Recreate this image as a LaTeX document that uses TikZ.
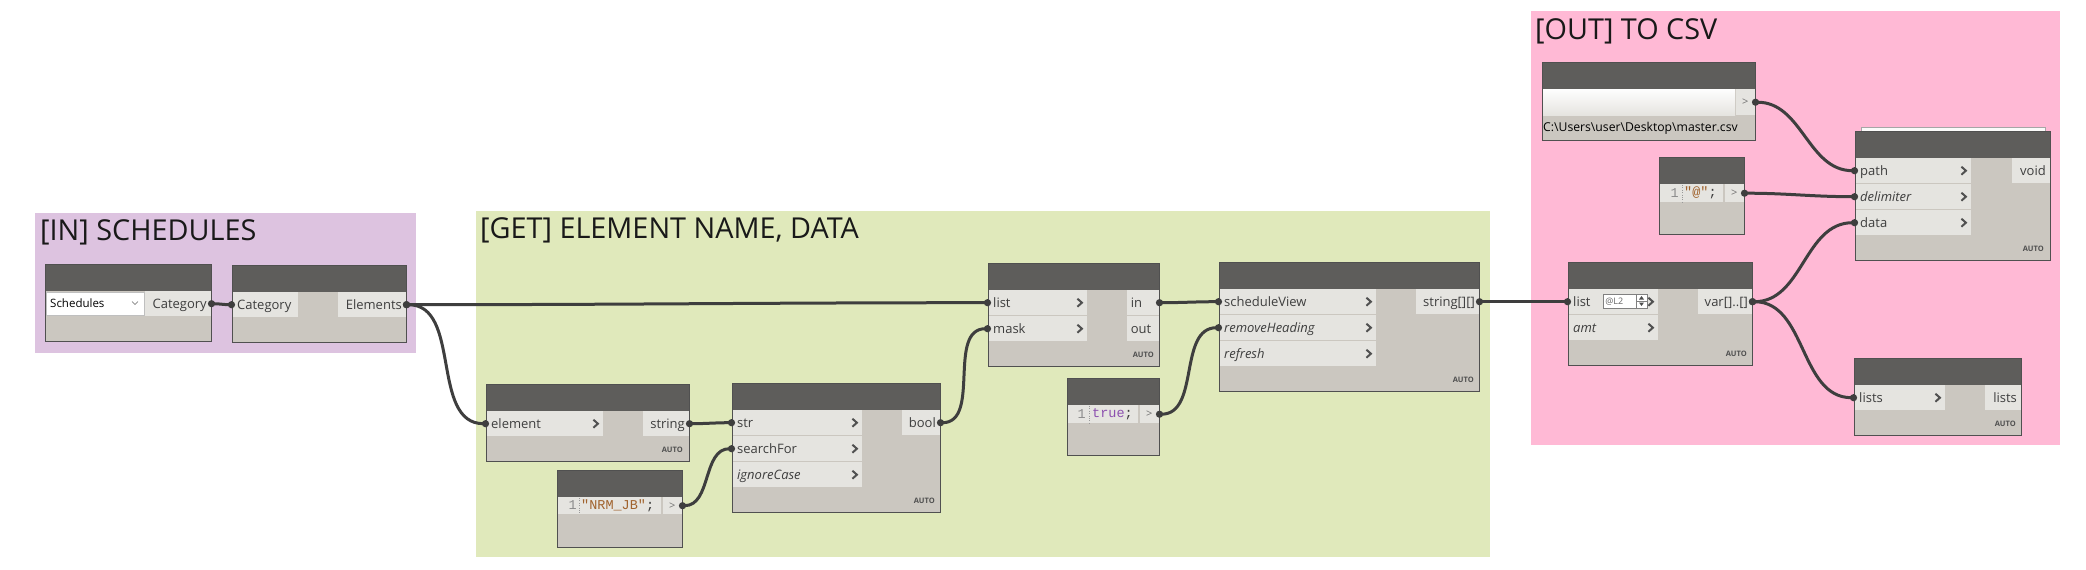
\documentclass[tikz,border=0pt]{standalone}
\usepackage{fontspec}
\setmainfont{Open Sans}
\setmonofont{Liberation Mono}
\usetikzlibrary{arrows.meta}

\definecolor{ingrp}{RGB}{221,195,224}
\definecolor{getgrp}{RGB}{224,233,187}
\definecolor{outgrp}{RGB}{255,185,213}
\definecolor{hdgray}{RGB}{94,93,91}
\definecolor{bdgray}{RGB}{203,199,192}
\definecolor{ptgray}{RGB}{229,228,224}
\definecolor{edgegray}{RGB}{80,80,80}
\definecolor{wiregray}{RGB}{62,62,62}
\definecolor{txtgray}{RGB}{62,62,62}
\definecolor{autogray}{RGB}{80,80,80}
\definecolor{strbrown}{RGB}{160,98,45}
\definecolor{kwpurple}{RGB}{140,80,175}

\tikzset{
  grptitle/.style={anchor=base west, inner sep=0pt, text=black!90, font=\fontsize{28.8}{32}\selectfont},
  head/.style={fill=hdgray},
  body/.style={fill=bdgray},
  outline/.style={draw=edgegray, line width=1pt},
  inport/.style={anchor=north west, fill=ptgray, inner xsep=5pt, inner ysep=0pt, minimum height=25pt, text height=11.5pt, text depth=1.5pt, align=left, text=txtgray, font=\fontsize{13}{15}\selectfont},
  outport/.style={anchor=north east, fill=ptgray, inner xsep=4pt, inner ysep=0pt, minimum height=25pt, text height=11.5pt, text depth=1.5pt, align=right, text=txtgray, font=\fontsize{13}{15}\selectfont},
  autotag/.style={anchor=east, inner sep=0pt, text=autogray, font=\fontsize{7.5}{9}\selectfont\bfseries},
  chev/.style={draw=txtgray!90, line width=2pt},
  codeln/.style={anchor=east, inner sep=0pt, text=black!45, font=\fontsize{13.5}{15}\ttfamily},
  codetx/.style={anchor=west, inner sep=0pt, text=txtgray, font=\fontsize{13.5}{15}\ttfamily},
  codeout/.style={anchor=north east, fill=ptgray, inner sep=0pt, minimum width=19pt, text=black!55, font=\fontsize{11}{12}\selectfont},
  wire/.style={draw=wiregray, line width=3pt, {Circle[length=7pt]}-{Circle[length=7pt]}, shorten <=-3pt, shorten >=-3pt},
}

\begin{document}
\begin{tikzpicture}[x=1pt,y=-1pt]

\useasboundingbox (0,0) rectangle (2086,570);
\fill[white] (0,0) rectangle (2086,570);

% Groups
\fill[ingrp] (35,213) rectangle (416,353);
\node[grptitle] (t-in) at (40,240) {[IN] SCHEDULES};
\fill[getgrp] (476,211) rectangle (1490,557);
\node[grptitle] (t-get) at (480,238) {[GET] ELEMENT NAME, DATA};
\fill[outgrp] (1531,11) rectangle (2060,445);
\node[grptitle] (t-out) at (1535,39) {[OUT] TO CSV};

% Categories
\fill[body] (45,264) rectangle (211,341);
\fill[head] (45,264) rectangle (211,291);
\node[anchor=north west, fill=white, draw=black!25, inner xsep=4pt, inner ysep=0pt, minimum height=23pt, text height=10pt, text depth=2pt, text width=90pt, align=left, font=\fontsize{11.5}{13}\selectfont] (cat-dd) at (46,292) {Schedules};
\draw[black!60, line width=0.6pt] (132,301.5) -- (135,304.5) -- (138,301.5);
\node[outport, text width=58pt] (cat-out) at (211,291) {Category};
\draw[outline] (45,264) rectangle (211,341);

% All Elements of Category
\fill[body] (232,265) rectangle (406,342);
\fill[head] (232,265) rectangle (406,292);
\node[inport, text width=56pt] (ae-in) at (232,292) {Category};
\node[outport, text width=60pt] (ae-out) at (406,292) {Elements};
\draw[outline] (232,265) rectangle (406,342);

% Element.Name
\fill[body] (486,384) rectangle (689,461);
\fill[head] (486,384) rectangle (689,411);
\node[inport, text width=107pt] (nm-in) at (486,411) {element};
\node[outport, text width=38pt] (nm-out) at (689,411) {string};
\node[autotag] (nm-auto) at (683,450) {AUTO};
\draw[outline] (486,384) rectangle (689,461);

% Code block NRM_JB
\fill[body] (557,470) rectangle (682,547);
\fill[head] (557,470) rectangle (682,497);
\fill[ptgray] (557,497) rectangle (661,514);
\node[codeln] (nrm-ln) at (577,505.5) {1};
\draw[black!40, dotted] (579.5,498) -- (579.5,514);
\node[codetx] (nrm-tx) at (581,505.5) {\textcolor{strbrown}{"NRM\_JB"};};
\node[codeout, minimum height=17pt] (nrm-out) at (682,497) {>};
\draw[outline] (557,470) rectangle (682,547);

% String.Contains
\fill[body] (732,383) rectangle (940,512);
\fill[head] (732,383) rectangle (940,410);
\node[inport, text width=120pt] (sc-str) at (732,410) {str};
\node[inport, text width=120pt] (sc-search) at (732,436) {searchFor};
\node[inport, text width=120pt] (sc-case) at (732,462) {\itshape ignoreCase};
\node[outport, text width=30pt] (sc-out) at (940,410) {bool};
\node[autotag] (sc-auto) at (935,501) {AUTO};
\draw[outline] (732,383) rectangle (940,512);

% List.FilterByBoolMask
\fill[body] (988,263) rectangle (1159,366);
\fill[head] (988,263) rectangle (1159,290);
\node[inport, text width=89pt] (fb-list) at (988,290) {list};
\node[inport, text width=89pt] (fb-mask) at (988,316) {mask};
\node[outport, text width=24pt, align=left] (fb-in) at (1159,290) {in};
\node[outport, text width=24pt, align=left] (fb-out) at (1159,316) {out};
\node[autotag] (fb-auto) at (1154,355) {AUTO};
\draw[outline] (988,263) rectangle (1159,366);

% Code block true
\fill[body] (1067,378) rectangle (1159,455);
\fill[head] (1067,378) rectangle (1159,405);
\fill[ptgray] (1067,405) rectangle (1138,423);
\node[codeln] (true-ln) at (1086,414) {1};
\draw[black!40, dotted] (1089.5,406) -- (1089.5,423);
\node[codetx] (true-tx) at (1092,414) {\textcolor{kwpurple}{true};};
\node[codeout, minimum height=18pt] (true-out) at (1159,405) {>};
\draw[outline] (1067,378) rectangle (1159,455);

% Schedule data
\fill[body] (1219,262) rectangle (1479,391);
\fill[head] (1219,262) rectangle (1479,289);
\node[inport, text width=147pt] (sd-view) at (1219,289) {scheduleView};
\node[inport, text width=147pt] (sd-head) at (1219,315) {\itshape removeHeading};
\node[inport, text width=147pt] (sd-ref) at (1219,341) {\itshape refresh};
\node[outport, text width=55pt] (sd-out) at (1479,289) {string[][]};
\node[autotag] (sd-auto) at (1474,380) {AUTO};
\draw[outline] (1219,262) rectangle (1479,391);

% List chop
\fill[body] (1568,262) rectangle (1752,365);
\fill[head] (1568,262) rectangle (1752,289);
\node[inport, text width=80pt] (lc-list) at (1568,289) {list};
\node[inport, text width=80pt] (lc-amt) at (1568,315) {\itshape amt};
\node[anchor=north west, fill=white, draw=black!50, line width=0.6pt, inner xsep=2pt, inner ysep=0pt, minimum width=44pt, minimum height=14pt, text width=40pt, align=left, text=black!60, font=\fontsize{9}{10}\selectfont] (lc-spin) at (1603,294) {@L2};
\draw[black!50, line width=0.6pt] (1636,294) -- (1636,308) (1636,301) -- (1647,301);
\fill[black!70] (1639,299.5) -- (1644,299.5) -- (1641.5,296) -- cycle;
\fill[black!70] (1639,302.5) -- (1644,302.5) -- (1641.5,306) -- cycle;
\node[outport, text width=46pt] (lc-out) at (1752,289) {var[]..[]};
\node[autotag] (lc-auto) at (1747,354) {AUTO};
\draw[outline] (1568,262) rectangle (1752,365);

% File path
\fill[body] (1542,62) rectangle (1755,140);
\fill[head] (1542,62) rectangle (1755,89);
\shade[top color=white!97!ptgray, bottom color=ptgray] (1542,89) rectangle (1735,115);
\node[codeout, minimum height=26pt] (fp-out) at (1755,89) {>};
\node[anchor=west, inner sep=0pt, text=black, font=\fontsize{12.2}{14}\selectfont] (fp-tx) at (1543,128) {C:\textbackslash Users\textbackslash user\textbackslash Desktop\textbackslash master.csv};
\draw[outline] (1542,62) rectangle (1755,140);

% Code block @
\fill[body] (1659,157) rectangle (1744,234);
\fill[head] (1659,157) rectangle (1744,184);
\fill[ptgray] (1659,184) rectangle (1723,202);
\node[codeln] (at-ln) at (1679,193) {1};
\draw[black!40, dotted] (1682,185) -- (1682,202);
\node[codetx] (at-tx) at (1684,193) {\textcolor{strbrown}{"@"};};
\node[codeout, minimum height=18pt] (at-out) at (1744,184) {>};
\draw[outline] (1659,157) rectangle (1744,234);

% WriteToFile
\draw[black!35, fill=white!85!ptgray, line width=0.6pt] (1861,127) rectangle (2045,131);
\fill[body] (1855,131) rectangle (2050,260);
\fill[head] (1855,131) rectangle (2050,158);
\node[inport, text width=106pt] (wf-path) at (1855,158) {path};
\node[inport, text width=106pt] (wf-delim) at (1855,184) {\itshape delimiter};
\node[inport, text width=106pt] (wf-data) at (1855,210) {data};
\node[outport, text width=30pt] (wf-out) at (2050,158) {void};
\node[autotag] (wf-auto) at (2044,249) {AUTO};
\draw[outline] (1855,131) rectangle (2050,260);

% Lists
\fill[body] (1854,358) rectangle (2021,435);
\fill[head] (1854,358) rectangle (2021,385);
\node[inport, text width=81pt] (ls-in) at (1854,385) {lists};
\node[outport, text width=28pt] (ls-out) at (2021,385) {lists};
\node[autotag] (ls-auto) at (2016,424) {AUTO};
\draw[outline] (1854,358) rectangle (2021,435);

% Input chevrons
\foreach \p in {nm-in,sc-str,sc-search,sc-case,fb-list,fb-mask,sd-view,sd-head,sd-ref,lc-list,lc-amt,wf-path,wf-delim,wf-data,ls-in}
  \draw[chev] ([xshift=-10pt,yshift=4pt]\p.east) -- ([xshift=-5.5pt]\p.east) -- ([xshift=-10pt,yshift=-4pt]\p.east);

% Wires
\draw[wire] (cat-out.east) to[out=0,in=180] (ae-in.west);
\draw[wire] (ae-out.east) to[out=0,in=180] (fb-list.west);
\draw[wire] (ae-out.east) to[out=0,in=180] (nm-in.west);
\draw[wire] (nm-out.east) to[out=0,in=180] (sc-str.west);
\draw[wire] (nrm-out.east) to[out=0,in=180] (sc-search.west);
\draw[wire] (sc-out.east) to[out=0,in=180] (fb-mask.west);
\draw[wire] (fb-in.east) to[out=0,in=180] (sd-view.west);
\draw[wire] (true-out.east) to[out=0,in=180] (sd-head.west);
\draw[wire] (sd-out.east) to[out=0,in=180] (lc-list.west);
\draw[wire] (lc-out.east) to[out=0,in=180] (wf-data.west);
\draw[wire] (lc-out.east) to[out=0,in=180] (ls-in.west);
\draw[wire] (fp-out.east) to[out=0,in=180] (wf-path.west);
\draw[wire] (at-out.east) to[out=0,in=180] (wf-delim.west);

\end{tikzpicture}
\end{document}
